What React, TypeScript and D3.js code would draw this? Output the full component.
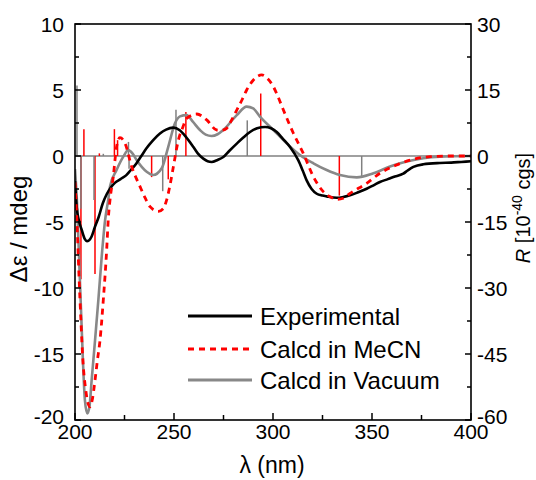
import React from "react";
import * as d3 from "d3";

// Experimental CD spectrum (λ nm, Δε mdeg)
const expLambda = [200, 200.8, 202, 203.4, 205, 206, 207, 208.4, 210, 212, 214, 216, 218, 220, 223, 225.8, 228, 230.9, 233.5, 236, 239.5, 242.9, 246, 249.6, 252.9, 256, 259.8, 262, 264.8, 267, 269, 272, 274.9, 278, 281.7, 285, 288.4, 292, 296, 299, 301.9, 305, 308.6, 312.8, 315, 317, 319.5, 322.1, 325, 327.1, 332.2, 335, 338.9, 343, 347.3, 351, 354, 358, 360.8, 365.8, 368, 370.9, 375.9, 384.3, 390, 395, 400];
const expValue = [-1.9, -3.8, -4.9, -5.6, -6.3, -6.45, -6.4, -6.1, -5.4, -4.6, -3.6, -2.9, -2.4, -2.05, -1.75, -1.47, -1.1, -0.58, 0, 0.56, 1.2, 1.7, 2.0, 2.15, 1.95, 1.45, 0.68, 0.2, -0.2, -0.4, -0.45, -0.3, -0.08, 0.4, 0.94, 1.4, 1.82, 2.1, 2.2, 2.1, 1.82, 1.3, 0.68, -0.33, -1.1, -1.85, -2.5, -2.86, -3.0, -3.06, -3.16, -3.12, -2.98, -2.75, -2.48, -2.2, -1.97, -1.75, -1.59, -1.34, -1.1, -0.83, -0.63, -0.53, -0.5, -0.45, -0.4];

// Calculated in MeCN
const mecnLambda = [200, 201, 202, 203, 204, 205.5, 206.5, 207.6, 208.8, 210.1, 211.3, 212.6, 214.3, 216, 216.8, 217.7, 219.3, 221, 222.7, 225.3, 228.6, 232.8, 235.5, 237.9, 242.1, 244.5, 246.3, 248, 249.7, 252.2, 254.5, 256.4, 261.5, 266.5, 271.6, 274, 276.6, 279, 281.7, 284.5, 286.7, 290.1, 294.3, 297, 300.2, 302.5, 305.2, 310.3, 315.3, 320.4, 325.4, 329, 332.2, 335.5, 338.9, 347.3, 354, 362.4, 370.9, 379.3, 390, 400];
const mecnValue = [-2.0, -5, -9, -12.5, -15.5, -17.8, -18.7, -19.0, -18.4, -17.0, -15.5, -14, -10.9, -7.1, -4.8, -3.3, -1.6, 0.7, 1.39, 0.95, -0.8, -2.3, -3.2, -3.84, -4.2, -4.0, -3.33, -2.2, -0.8, 1.2, 2.2, 2.85, 3.18, 2.73, 1.97, 1.95, 2.1, 2.7, 3.48, 4.3, 5.0, 5.76, 6.14, 5.9, 5.25, 4.5, 3.5, 1.72, 0.2, -1.57, -2.7, -3.1, -3.28, -3.2, -2.83, -2.07, -1.31, -0.68, -0.25, -0.05, 0, 0];

// Calculated in vacuum
const vacLambda = [200, 201, 202, 203, 204, 205, 206.2, 207.3, 208.4, 210.1, 211.8, 213.5, 215.2, 216.8, 217.7, 221, 224.4, 226.9, 229, 231.1, 236.2, 239.5, 243.8, 247.1, 250.5, 253, 256.4, 259.5, 263.1, 266, 269, 272, 274.9, 281.7, 286.7, 290, 293.4, 300.2, 306.9, 313.6, 320.4, 327.1, 333.8, 342.3, 350.7, 359.1, 367.5, 375.9, 384.3, 400];
const vacValue = [-1, -3.5, -7.5, -11.5, -15.5, -18.5, -19.5, -19.0, -17, -14, -10.9, -7.6, -4.86, -3.3, -2.3, -1.06, -0.05, 0.45, 0.2, -0.3, -1.19, -1.44, -0.93, 0.7, 2.48, 3.0, 3.1, 2.6, 1.97, 1.62, 1.52, 1.65, 1.97, 3.1, 3.74, 3.6, 2.98, 1.97, 0.96, 0.08, -0.55, -1.06, -1.44, -1.62, -1.31, -0.8, -0.42, -0.17, -0.05, 0];

// Rotatory strengths (sticks), R in 10^-40 cgs
const mecnStickLambda = [203, 204.5, 210.1, 212.3, 219.9, 221.5, 238.7, 247.1, 256, 293.8, 333.5];
const mecnStickR = [-28, 6.1, -26.8, 0.6, 6.1, 3.6, -4.8, -5.3, 10.0, 14.2, -9.0];
const vacStickLambda = [201, 203, 209.6, 214.3, 227, 227.3, 244.3, 251, 287, 344.8];
const vacStickR = [16, -12, -10, 0.5, 3.2, -2.9, -8.0, 10.5, 8.1, -4.8];

const xTicks = [200, 250, 300, 350, 400];
const yLeftTicks = [-20, -15, -10, -5, 0, 5, 10];
const yRightTicks = [-60, -45, -30, -15, 0, 15, 30];

const legendLabels = ["Experimental", "Calcd in MeCN", "Calcd in Vacuum"];

const W = 536;
const H = 480;
const L = 75, R = 471, T = 24, B = 420;
const FONT = "'Liberation Sans', Arial, sans-serif";

export default function App() {
  const x = d3.scaleLinear().domain([200, 400]).range([L, R]);
  const yL = d3.scaleLinear().domain([-20, 10]).range([B, T]);
  const yR = d3.scaleLinear().domain([-60, 30]).range([B, T]);

  const line = d3
    .line<[number, number]>()
    .x((d) => x(d[0]))
    .y((d) => yL(d[1]))
    .curve(d3.curveMonotoneX);

  const expPath = line(expLambda.map((l, i) => [l, expValue[i]]) as [number, number][]) || "";
  const mecnPath = line(mecnLambda.map((l, i) => [l, mecnValue[i]]) as [number, number][]) || "";
  const vacPath = line(vacLambda.map((l, i) => [l, vacValue[i]]) as [number, number][]) || "";

  const xMinor = d3.range(200, 400.1, 25);
  const yLMinor = d3.range(-20, 10.1, 2.5);
  const yRMinor = d3.range(-60, 30.1, 7.5);

  const legendColors = ["#000", "#ff0000", "#888"];
  const legendDash = [undefined, "6,5", undefined];

  return (
    <svg width={W} height={H} style={{ display: "block", position: "absolute", left: 0, top: 0 }}>
      <rect x={0} y={0} width={W} height={H} fill="#fff" />
      <defs>
        <clipPath id="plot">
          <rect x={L} y={T} width={R - L} height={B - T} />
        </clipPath>
      </defs>
      {/* zero line */}
      <line x1={L} x2={R} y1={yL(0)} y2={yL(0)} stroke="#808080" strokeWidth={1.6} />
      <g clipPath="url(#plot)">
        {mecnStickLambda.map((l, i) => (
          <line key={"ms" + i} x1={x(l)} x2={x(l)} y1={yR(0)} y2={yR(mecnStickR[i])} stroke="#ff0000" strokeWidth={1.5} />
        ))}
        {vacStickLambda.map((l, i) => (
          <line key={"vs" + i} x1={x(l)} x2={x(l)} y1={yR(0)} y2={yR(vacStickR[i])} stroke="#808080" strokeWidth={1.5} />
        ))}
        <path d={vacPath} fill="none" stroke="#888" strokeWidth={2.6} />
        <path d={expPath} fill="none" stroke="#000" strokeWidth={2.6} />
        <path d={mecnPath} fill="none" stroke="#ff0000" strokeWidth={2.8} strokeDasharray="6,5" />
      </g>
      {/* frame */}
      <rect x={L} y={T} width={R - L} height={B - T} fill="none" stroke="#000" strokeWidth={1.6} />
      {/* bottom ticks */}
      {xMinor.map((v) => (
        <line key={"xt" + v} x1={x(v)} x2={x(v)} y1={B} y2={B - (v % 50 === 0 ? 7 : 5)} stroke="#000" strokeWidth={1.5} />
      ))}
      {xTicks.map((v) => (
        <text key={"xl" + v} x={x(v)} y={439} textAnchor="middle" fontFamily={FONT} fontSize={21} fill="#000">
          {v}
        </text>
      ))}
      {/* left ticks */}
      {yLMinor.map((v) => (
        <line key={"ylt" + v} x1={L} x2={L + (v % 5 === 0 ? 6 : 4)} y1={yL(v)} y2={yL(v)} stroke="#000" strokeWidth={1.5} />
      ))}
      {yLeftTicks.map((v) => (
        <text key={"yll" + v} x={64} y={yL(v)} dy={v === -20 ? "0.2em" : "0.36em"} textAnchor="end" fontFamily={FONT} fontSize={21} fill="#000">
          {v}
        </text>
      ))}
      {/* right ticks */}
      {yRMinor.map((v) => (
        <line key={"yrt" + v} x1={R} x2={R - (v % 15 === 0 ? 6 : 4)} y1={yR(v)} y2={yR(v)} stroke="#000" strokeWidth={1.5} />
      ))}
      {yRightTicks.map((v) => (
        <text key={"yrl" + v} x={477} y={yR(v)} dy={v === -60 ? "0.2em" : "0.36em"} textAnchor="start" fontFamily={FONT} fontSize={21} fill="#000">
          {v}
        </text>
      ))}
      {/* axis titles */}
      <text x={272} y={473} textAnchor="middle" fontFamily={FONT} fontSize={23} fill="#000">
        λ (nm)
      </text>
      <text transform="translate(27,229) rotate(-90)" textAnchor="middle" fontFamily={FONT} fontSize={24} fill="#000">
        Δε / mdeg
      </text>
      <text transform="translate(530,208) rotate(-90)" textAnchor="middle" fontFamily={FONT} fontSize={20} fill="#000">
        <tspan fontStyle="italic">R</tspan>
        <tspan> [10</tspan>
        <tspan fontSize={14} dy={-8}>-40</tspan>
        <tspan dy={8}> cgs]</tspan>
      </text>
      {/* legend */}
      {legendLabels.map((lab, i) => {
        const ly = [316, 349, 380][i];
        return (
          <g key={"lg" + i}>
            <line x1={188} x2={252} y1={ly} y2={ly} stroke={legendColors[i]} strokeWidth={3} strokeDasharray={legendDash[i]} />
            <text x={260} y={ly + 8.5} fontFamily={FONT} fontSize={24} fill="#000">
              {lab}
            </text>
          </g>
        );
      })}
    </svg>
  );
}
